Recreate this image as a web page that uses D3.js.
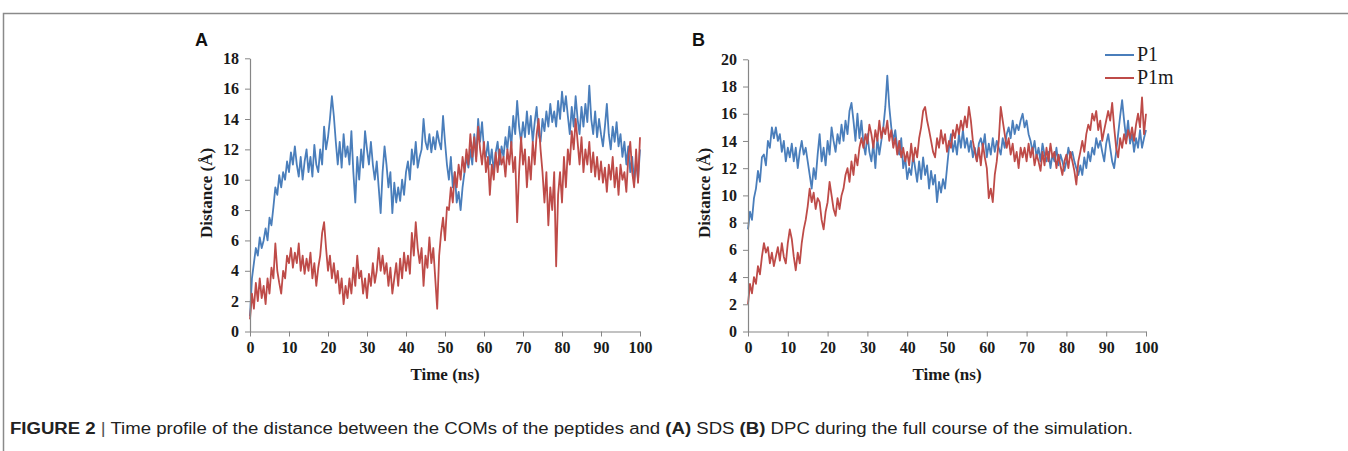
<!DOCTYPE html>
<html>
<head>
<meta charset="utf-8">
<script src="https://cdn.jsdelivr.net/npm/d3@7"></script>
<style>
  body { margin: 0; background: #fff; }
  svg { display: block; }
</style>
</head>
<body>
<svg id="fig" width="1348" height="451"></svg>
<script>
// sample times, ns (every 0.5 ns)
const time = d3.range(0, 100.5, 0.5);

// panel A - SDS
const sdsP1 = [
  1.0, 3.5, 4.5, 5.5, 5.0, 6.2, 5.5, 6.0, 6.8, 6.0, 7.5, 7.0, 8.2, 9.5, 9.0, 10.3, 9.5, 10.5, 10.0, 11.2,
  10.5, 11.8, 11.0, 12.2, 11.0, 10.2, 11.5, 10.0, 11.2, 12.0, 10.5, 11.5, 10.2, 12.3, 11.0, 10.5, 12.0, 11.0, 13.5, 12.0,
  12.8, 14.0, 15.5, 14.2, 12.5, 11.0, 12.5, 10.8, 13.0, 11.5, 12.2, 11.0, 13.2, 10.5, 8.5, 11.5, 10.0, 12.0, 10.8, 13.2,
  12.0, 11.0, 12.5, 11.0, 10.0, 11.2, 9.5, 7.8, 10.5, 12.2, 11.0, 9.5, 10.5, 7.8, 9.8, 8.5, 9.5, 8.6, 10.0, 9.0,
  10.5, 11.2, 10.0, 12.0, 11.0, 12.5, 10.8, 11.5, 12.0, 14.0, 12.5, 12.0, 13.0, 11.8, 12.8, 12.0, 13.2, 12.5, 12.0, 14.2,
  12.5, 11.0, 10.0, 11.5, 9.5, 10.5, 8.5, 9.2, 8.0, 9.5, 10.5, 11.5, 10.8, 12.0, 11.0, 13.0, 11.5, 14.0, 12.5, 13.8,
  12.0, 11.5, 12.5, 11.0, 12.0, 10.5, 11.8, 12.5, 11.0, 12.2, 11.5, 12.8, 12.0, 13.5, 12.2, 14.2, 13.0, 15.2, 13.5, 12.5,
  13.8, 12.8, 14.5, 13.0, 14.2, 12.5, 13.8, 14.8, 13.0, 12.5, 14.0, 13.2, 14.5, 13.5, 15.0, 13.8, 14.5, 13.5, 15.2, 14.0,
  15.8, 14.5, 15.5, 14.2, 13.0, 14.8, 13.5, 15.5, 14.0, 13.0, 14.8, 13.5, 15.0, 13.8, 16.2, 14.0, 13.0, 14.5, 12.8, 14.0,
  13.0, 12.2, 13.5, 15.0, 13.0, 12.0, 13.5, 12.5, 13.8, 12.2, 13.0, 11.5, 12.5, 11.0, 12.2, 10.5, 11.5, 9.8, 11.2, 10.0,
  12.0
];
const sdsP1m = [
  0.8, 2.5, 1.5, 3.2, 2.0, 3.5, 2.2, 3.0, 1.8, 3.5, 2.5, 4.2, 3.5, 5.8, 4.0, 3.2, 2.5, 4.0, 3.5, 5.0,
  4.5, 5.5, 4.2, 5.2, 4.5, 5.8, 4.0, 5.0, 3.8, 4.8, 4.0, 5.2, 3.5, 4.5, 3.0, 4.2, 5.0, 6.5, 7.2, 5.5,
  4.0, 5.0, 3.5, 4.5, 3.2, 4.0, 2.5, 3.5, 1.8, 3.0, 2.2, 3.5, 2.5, 4.2, 3.0, 5.0, 3.5, 4.0, 2.5, 3.5,
  2.2, 3.8, 3.0, 4.5, 3.2, 4.0, 5.5, 4.0, 5.0, 3.8, 4.5, 3.0, 4.2, 2.5, 3.5, 4.5, 3.0, 4.8, 3.5, 5.2,
  4.0, 5.0, 3.8, 6.5, 5.0, 7.2, 5.5, 4.5, 5.5, 3.0, 5.0, 4.2, 6.2, 4.5, 5.5, 3.5, 1.5, 5.0, 6.5, 7.5,
  6.0, 8.2, 8.0, 9.5, 8.5, 10.5, 9.5, 11.0, 10.0, 11.5, 10.5, 12.0, 11.0, 13.0, 11.5, 12.8, 11.2, 13.5, 12.0, 11.0,
  12.5, 10.5, 11.5, 9.0, 11.0, 10.0, 11.8, 10.5, 12.0, 11.0, 11.5, 10.2, 12.0, 11.0, 12.5, 10.5, 11.5, 7.2, 10.5, 12.8,
  11.0, 12.0, 9.5, 11.5, 10.0, 12.5, 11.0, 13.0, 14.0, 12.0, 10.5, 8.5, 10.5, 7.0, 9.5, 8.0, 10.5, 4.3, 9.0, 10.5,
  8.5, 11.5, 9.5, 12.0, 11.0, 13.2, 12.0, 14.0, 12.5, 11.0, 12.8, 10.5, 12.0, 11.0, 12.5, 10.5, 11.8, 10.2, 11.5, 10.0,
  11.2, 9.8, 10.8, 9.2, 11.0, 10.0, 11.5, 9.5, 10.8, 9.0, 11.0, 10.0, 10.5, 9.2, 11.5, 12.5, 10.5, 9.5, 12.0, 9.8,
  12.8
];

// panel B - DPC
const dpcP1 = [
  7.5, 8.8, 8.2, 9.8, 10.5, 11.8, 11.0, 12.8, 13.0, 12.2, 14.0, 13.5, 15.0, 14.2, 15.0, 14.0, 14.5, 13.2, 14.0, 12.5,
  13.5, 12.8, 13.8, 12.5, 13.5, 12.0, 13.2, 14.0, 13.0, 13.5, 12.5, 11.5, 10.5, 12.0, 11.2, 13.0, 14.5, 12.5, 13.5, 12.2,
  14.0, 13.0, 15.0, 14.0, 13.2, 14.5, 13.8, 15.2, 14.0, 15.5, 14.5, 16.2, 16.8, 15.5, 14.0, 16.0, 14.2, 15.5, 13.8, 13.0,
  14.5, 13.2, 12.5, 13.8, 12.0, 14.2, 13.0, 14.0, 15.0, 16.5, 18.8, 16.5, 15.0, 14.0, 14.8, 13.5, 13.0, 14.2, 12.0, 12.8,
  11.2, 12.0, 11.5, 13.0, 12.0, 11.0, 12.5, 11.2, 12.8, 11.5, 12.2, 10.5, 11.8, 10.8, 11.5, 9.5, 11.0, 10.2, 11.2, 10.5,
  12.0, 13.5, 14.5, 13.2, 14.0, 13.0, 14.5, 13.5, 14.8, 13.5, 14.2, 13.2, 14.0, 12.8, 13.5, 12.5, 13.8, 14.2, 13.5, 14.5,
  12.8, 13.8, 13.0, 14.2, 13.2, 14.0, 13.5, 13.0, 14.2, 13.5, 14.5, 15.0, 14.2, 15.5, 14.5, 15.2, 14.8, 15.5, 16.0, 15.0,
  15.5, 14.5, 14.0, 13.2, 14.0, 12.8, 13.5, 12.5, 13.8, 13.0, 12.5, 13.2, 12.0, 13.0, 12.5, 13.5, 12.2, 13.0, 12.5, 11.8,
  12.5, 13.5, 12.8, 13.2, 12.5, 12.0, 11.5, 12.2, 11.5, 12.8, 12.0, 13.2, 12.5, 13.5, 13.0, 14.2, 13.5, 14.0, 13.2, 12.5,
  13.8, 14.5, 13.5, 12.5, 12.0, 13.2, 14.5, 15.8, 17.0, 15.5, 14.2, 15.5, 13.8, 14.5, 13.2, 14.2, 13.5, 14.8, 13.5, 14.2,
  14.8
];
const dpcP1m = [
  2.0, 3.5, 2.8, 4.0, 3.5, 4.8, 4.2, 5.5, 6.5, 5.8, 6.2, 5.0, 5.8, 4.8, 5.5, 6.2, 5.2, 6.5, 5.5, 5.0,
  6.5, 7.5, 6.8, 5.5, 4.5, 5.8, 5.0, 6.5, 7.5, 8.2, 9.2, 10.5, 9.5, 10.2, 9.0, 9.8, 9.5, 8.2, 7.5, 8.8,
  9.5, 11.0, 10.0, 9.0, 8.5, 9.8, 9.0, 10.0, 10.5, 11.5, 12.0, 11.0, 12.5, 11.5, 13.0, 12.2, 13.5, 14.2, 13.5, 14.5,
  13.8, 15.2, 14.5, 13.5, 14.8, 14.0, 15.5, 14.2, 15.0, 14.5, 15.5, 14.0, 14.8, 13.5, 14.2, 13.0, 14.0, 12.8, 13.5, 12.5,
  13.2, 12.2, 13.8, 12.5, 13.5, 12.8, 14.2, 15.0, 16.2, 16.5, 15.5, 14.8, 14.0, 13.2, 12.8, 14.2, 13.5, 14.8, 13.8, 14.5,
  13.2, 14.0, 13.5, 14.8, 14.2, 15.2, 14.5, 15.5, 14.8, 15.8, 15.0, 16.5, 15.5, 14.0, 13.2, 12.5, 13.5, 12.2, 13.8, 12.8,
  12.0, 9.8, 10.5, 9.5, 11.5, 12.5, 14.0, 16.5, 15.5, 14.5, 13.5, 14.2, 13.0, 13.8, 12.5, 13.2, 12.0, 13.5, 12.8, 13.5,
  12.5, 13.8, 12.8, 13.5, 12.2, 13.0, 12.5, 11.8, 13.2, 12.2, 13.5, 12.5, 13.8, 12.8, 13.2, 12.0, 13.0, 12.2, 11.5, 12.5,
  13.0, 12.0, 13.2, 12.5, 11.8, 10.8, 12.5, 13.2, 14.0, 13.2, 14.5, 15.2, 14.8, 16.0, 15.5, 16.2, 14.8, 15.5, 14.0, 14.8,
  15.5, 16.2, 15.5, 16.8, 15.0, 13.5, 12.8, 14.2, 13.5, 14.5, 13.8, 14.8, 14.2, 15.0, 14.0, 15.2, 16.0, 15.0, 17.2, 14.5,
  16.0
];

const xTicks = [0, 10, 20, 30, 40, 50, 60, 70, 80, 90, 100];
const yTicksA = [0, 2, 4, 6, 8, 10, 12, 14, 16, 18];
const yTicksB = [0, 2, 4, 6, 8, 10, 12, 14, 16, 18, 20];
const seriesNames = ["P1", "P1m"];
const colors = { P1: "#4a7ebb", P1m: "#be4b48" };
const caption = "Time profile of the distance between the COMs of the peptides and ";

const svg = d3.select("#fig");
const serif = "'Liberation Serif', 'Times New Roman', serif";
const sans = "'Liberation Sans', Arial, sans-serif";

// frame
svg.append("path")
  .attr("d", "M3.5,451 V13.5 H1348")
  .attr("fill", "none").attr("stroke", "#8a8a8a").attr("stroke-width", 1.5);

function panel(opts) {
  const g = svg.append("g");
  const x = d3.scaleLinear().domain([0, 100]).range([opts.left, opts.right]);
  const y = d3.scaleLinear().domain([0, opts.ymax]).range([331.5, opts.top]);

  const line = d3.line().x((d, i) => x(time[i])).y(d => y(d));

  [["P1", opts.p1], ["P1m", opts.p1m]].forEach(([name, vals]) => {
    g.append("path")
      .datum(vals)
      .attr("d", line)
      .attr("fill", "none")
      .attr("stroke", colors[name])
      .attr("stroke-width", 1.8)
      .attr("stroke-linejoin", "round");
  });

  const ax = g.append("g")
    .attr("transform", `translate(0,${y(0)})`)
    .call(d3.axisBottom(x).tickValues(xTicks).tickSize(5).tickSizeOuter(0));
  const ay = g.append("g")
    .attr("transform", `translate(${x(0)},0)`)
    .call(d3.axisLeft(y).tickValues(opts.yTicks).tickSize(5).tickSizeOuter(0));

  [ax, ay].forEach(a => {
    a.select(".domain").attr("stroke", "#868686").attr("stroke-width", 1.2);
    a.selectAll(".tick line").attr("stroke", "#868686");
    a.selectAll(".tick text")
      .attr("fill", "#1a1a1a")
      .style("font-family", serif).style("font-size", "16px").style("font-weight", "bold");
  });
  ax.selectAll(".tick text").attr("y", 9).attr("dy", "0.8em");
  ay.selectAll(".tick text").attr("x", -11);

  g.append("text")
    .attr("x", (opts.left + opts.right) / 2).attr("y", 380)
    .attr("text-anchor", "middle")
    .style("font-family", serif).style("font-size", "17px").style("font-weight", "bold")
    .attr("fill", "#1a1a1a")
    .text("Time (ns)");

  g.append("text")
    .attr("transform", `translate(${opts.left - 38},193) rotate(-90)`)
    .attr("text-anchor", "middle")
    .style("font-family", serif).style("font-size", "17px").style("font-weight", "bold")
    .attr("fill", "#1a1a1a")
    .text("Distance (Å)");

  g.append("text")
    .attr("x", opts.labelX).attr("y", 46)
    .style("font-family", sans).style("font-size", "18px").style("font-weight", "bold")
    .attr("fill", "#111")
    .text(opts.label);
}

panel({ label: "A", labelX: 195, left: 250, right: 640, top: 58.3, ymax: 18, yTicks: yTicksA, p1: sdsP1, p1m: sdsP1m });
panel({ label: "B", labelX: 692, left: 748, right: 1146, top: 59.3, ymax: 20, yTicks: yTicksB, p1: dpcP1, p1m: dpcP1m });

// legend
const legend = svg.append("g");
seriesNames.forEach((name, i) => {
  const ly = 55 + i * 23;
  legend.append("line")
    .attr("x1", 1105).attr("x2", 1134).attr("y1", ly).attr("y2", ly)
    .attr("stroke", colors[name]).attr("stroke-width", 2);
  legend.append("text")
    .attr("x", 1137).attr("y", ly + 6)
    .style("font-family", serif).style("font-size", "20px")
    .attr("fill", "#1a1a1a")
    .text(name);
});

// caption
const cap = svg.append("text")
  .attr("x", 10).attr("y", 434)
  .attr("textLength", 1123).attr("lengthAdjust", "spacingAndGlyphs")
  .style("font-family", sans).style("font-size", "16px")
  .attr("fill", "#222");
cap.append("tspan").style("font-weight", "bold").text("FIGURE 2 ");
cap.append("tspan").attr("fill", "#555").text("| ");
cap.append("tspan").text(caption);
cap.append("tspan").style("font-weight", "bold").text("(A)");
cap.append("tspan").text(" SDS ");
cap.append("tspan").style("font-weight", "bold").text("(B)");
cap.append("tspan").text(" DPC during the full course of the simulation.");
</script>
</body>
</html>
